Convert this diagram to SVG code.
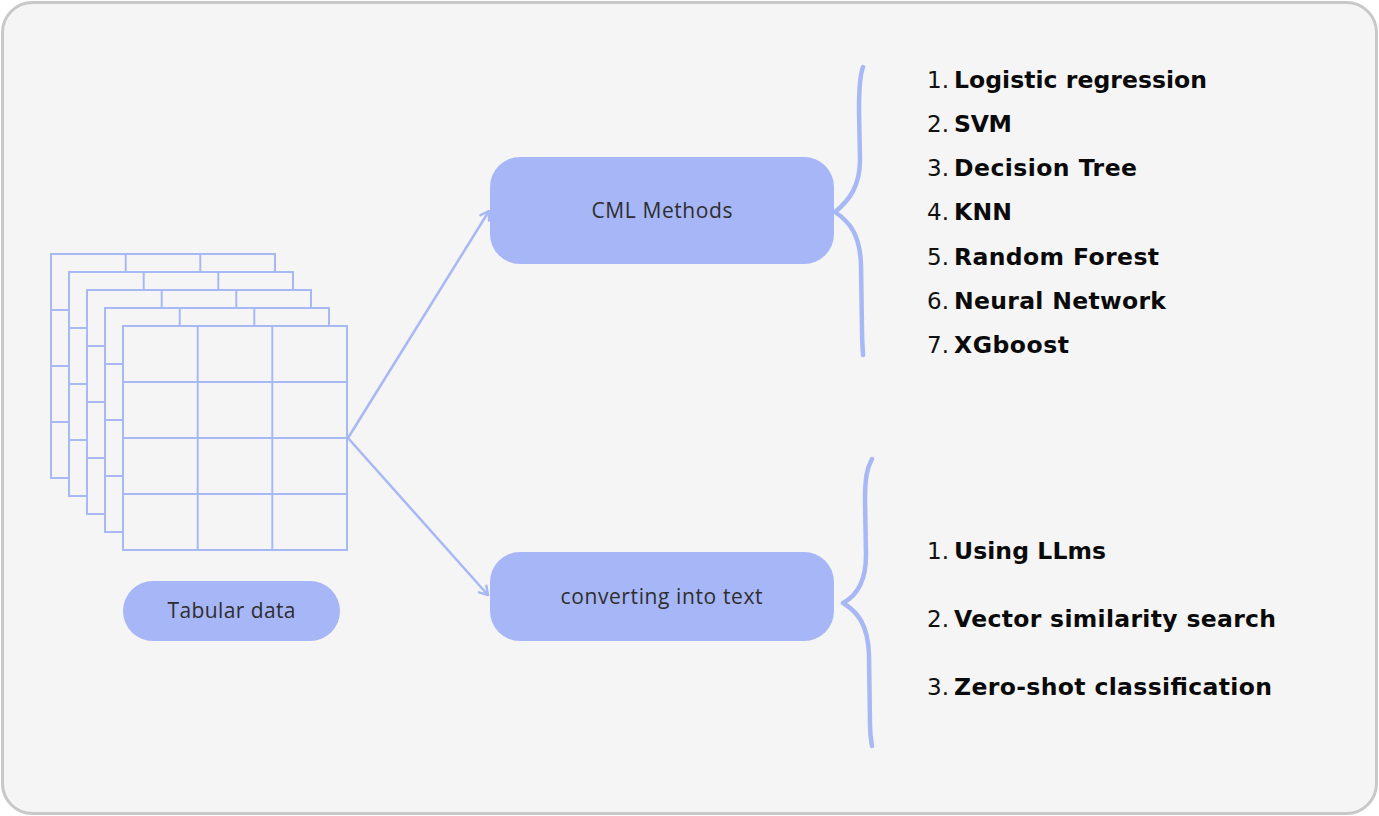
<svg xmlns="http://www.w3.org/2000/svg" width="1379" height="816" viewBox="0 0 1379 816">
<defs>
<style>
.frame{fill:#f5f5f5;stroke:#c8c8c8;stroke-width:3}
.node{fill:#a7b6f6}
.ntext{font-family:"Open Sans","Liberation Sans",sans-serif;font-size:21px;fill:#2e2e2e;text-anchor:middle}
.conn{stroke:#a8b8f5;stroke-width:2.5;fill:none}
.brace{stroke:#a8b8f5;stroke-width:4.5;fill:none;stroke-linecap:round;stroke-linejoin:round}
.num{font-family:"DejaVu Sans","Open Sans",sans-serif;font-size:23px;fill:#111;text-anchor:end}
.item{font-family:"DejaVu Sans","Open Sans",sans-serif;font-size:23.5px;font-weight:bold;fill:#0a0a0a}
</style>
<marker id="arr" markerUnits="userSpaceOnUse" markerWidth="14" markerHeight="14" refX="10" refY="6" orient="auto" viewBox="0 0 14 12">
<path d="M2,1 L10,6 L2,11" fill="none" stroke="#a8b8f5" stroke-width="2.5" stroke-linecap="round" stroke-linejoin="round"/>
</marker>
<g id="table" fill="#f5f5f5" stroke="#a8b8f5" stroke-width="2">
<rect x="0" y="0" width="224" height="224"/>
<line x1="74.7" y1="0" x2="74.7" y2="224"/>
<line x1="149.3" y1="0" x2="149.3" y2="224"/>
<line x1="0" y1="56" x2="224" y2="56"/>
<line x1="0" y1="112" x2="224" y2="112"/>
<line x1="0" y1="168" x2="224" y2="168"/>
</g>
</defs>
<rect class="frame" x="2.5" y="2.5" width="1374" height="811" rx="30"/>
<g id="tables">
<use href="#table" x="51" y="254"/>
<use href="#table" x="69" y="272"/>
<use href="#table" x="87" y="290"/>
<use href="#table" x="105" y="308"/>
<use href="#table" x="123" y="326"/>
</g>
<g id="connectors">
<line class="conn" x1="348" y1="438" x2="489" y2="211" marker-end="url(#arr)"/>
<line class="conn" x1="348" y1="438" x2="488" y2="595" marker-end="url(#arr)"/>
<path class="brace" d="M863,67 C860,75 859,85 859,110 L860,160 C860,185 850,200 835,212 C850,222 860,235 861,265 L862,330 C862,345 863,350 863,355"/>
<path class="brace" d="M872,459 C867,468 865,478 865,500 L866,555 C866,580 858,595 843,603 C858,612 868,625 869,655 L870,725 C870,735 871,740 872,746"/>
</g>
<g id="node-tabular">
<rect class="node" x="123" y="581" width="217" height="60" rx="30"/>
<text class="ntext" x="231.5" y="618" textLength="128">Tabular data</text>
</g>
<g id="node-cml">
<rect class="node" x="490" y="157" width="344" height="107" rx="30"/>
<text class="ntext" x="662" y="218" textLength="141">CML Methods</text>
</g>
<g id="node-text">
<rect class="node" x="490" y="552" width="344" height="89" rx="30"/>
<text class="ntext" x="661.5" y="604" textLength="202">converting into text</text>
</g>
<g id="list-cml">
<text class="num" x="949" y="87.5">1.</text><text class="item" x="954" y="87.5" textLength="253">Logistic regression</text>
<text class="num" x="949" y="131.8">2.</text><text class="item" x="954" y="131.8" textLength="58">SVM</text>
<text class="num" x="949" y="176.1">3.</text><text class="item" x="954" y="176.1" textLength="183">Decision Tree</text>
<text class="num" x="949" y="220.4">4.</text><text class="item" x="954" y="220.4" textLength="58">KNN</text>
<text class="num" x="949" y="264.7">5.</text><text class="item" x="954" y="264.7" textLength="205">Random Forest</text>
<text class="num" x="949" y="309">6.</text><text class="item" x="954" y="309" textLength="212">Neural Network</text>
<text class="num" x="949" y="353.3">7.</text><text class="item" x="954" y="353.3" textLength="115">XGboost</text>
</g>
<g id="list-text">
<text class="num" x="949" y="558.5">1.</text><text class="item" x="954" y="558.5" textLength="152">Using LLms</text>
<text class="num" x="949" y="626.5">2.</text><text class="item" x="954" y="626.5" textLength="322">Vector similarity search</text>
<text class="num" x="949" y="694.5">3.</text><text class="item" x="954" y="694.5" textLength="318">Zero-shot classification</text>
</g>
</svg>
